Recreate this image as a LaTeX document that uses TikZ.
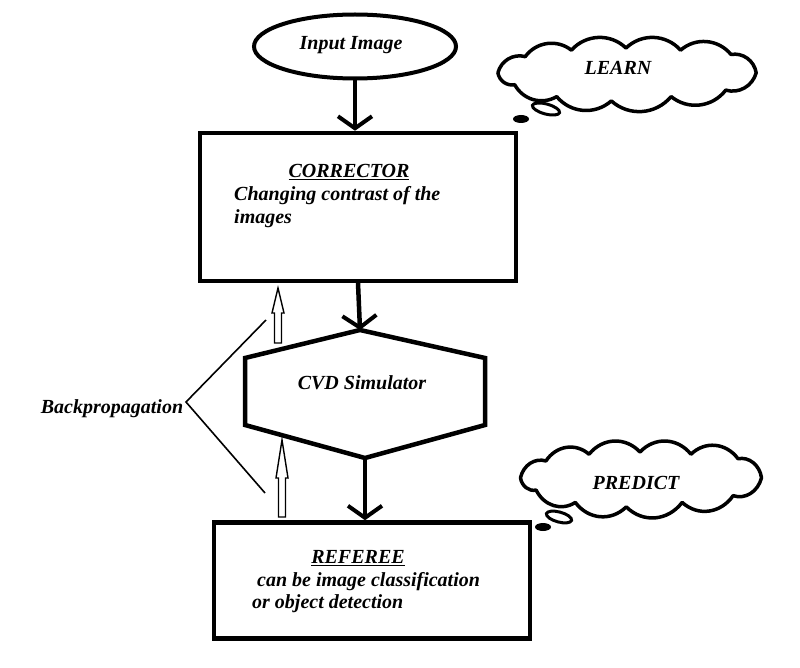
\documentclass[tikz,border=0pt]{standalone}
\usepackage{fontspec}
\setmainfont{Liberation Serif}
\usetikzlibrary{arrows.meta,shapes.geometric}
\begin{document}
\begin{tikzpicture}[x=1pt,y=-1pt,
  txt/.style={font=\fontsize{20}{22}\selectfont\bfseries\itshape, inner sep=0pt},
  box/.style={draw, line width=4.5pt, inner sep=0pt},
  flow/.style={line width=4.5pt, -{Straight Barb[length=12pt,width=34pt,line width=4pt]}},
  hollow/.style={draw, line width=1.4pt, fill=white, line join=miter},
  thin/.style={line width=1.6pt},
  cloudline/.style={line width=3.5pt, line join=round},
  tail/.style={line width=3pt},
  puff/.style={bend left=45}
]
\useasboundingbox (0,0) rectangle (800,668);
% Input ellipse
\node[ellipse, draw, line width=4pt, minimum width=202pt, minimum height=64pt, inner sep=0pt] (inp) at (355,46.5) {};
\node[txt] (inptxt) at (351,45) {Input Image};
% Corrector
\node[box, minimum width=316pt, minimum height=148pt] (corr) at (358,207) {};
\node[txt] (corrtitle) at (349,172) {\underline{CORRECTOR}};
\node[txt, anchor=west] (corrl1) at (234,196) {Changing contrast of the};
\node[txt, anchor=west] (corrl2) at (234,219) {images};
% Hexagon
\coordinate (hexT) at (360,330);
\coordinate (hexB) at (365,458);
\draw[line width=4.5pt, line join=miter] (hexT) -- (485,358) -- (485,425) -- (hexB) -- (245,425) -- (245,358) -- cycle;
\node[txt] (cvd) at (362,383) {CVD Simulator};
% Referee
\node[box, minimum width=316pt, minimum height=116pt] (ref) at (372,580.5) {};
\node[txt] (reftitle) at (358,558) {\underline{REFEREE}};
\node[txt, anchor=west] (refl1) at (257,582) {can be image classification};
\node[txt, anchor=west] (refl2) at (252,604) {or object detection};
% flow arrows
\draw[flow] (inp.south) -- (inp.south |- corr.north);
\draw[flow] (358,283) -- (hexT);
\draw[flow] (hexB) -- (hexB |- ref.north);
% hollow arrows
\coordinate (up1) at (278,288);
\coordinate (up2) at (282,440);
\draw[hollow] (up1) -- ++(6,25) -- ++(-2.5,0) -- ++(0,30) -- ++(-7,0) -- ++(0,-30) -- ++(-2.5,0) -- cycle;
\draw[hollow] (up2) -- ++(6,38) -- ++(-2.5,0) -- ++(0,39) -- ++(-7,0) -- ++(0,-39) -- ++(-2.5,0) -- cycle;
% Backpropagation
\node[txt] (bp) at (112,409) {Backpropagation};
\coordinate (bpv) at (186,402);
\coordinate (bp1) at (266,320);
\coordinate (bp2) at (265,493);
\draw[thin] (bp1) -- (bpv) -- (bp2);
% Clouds
\begin{scope}[shift={(626,75)}, xscale=1.05, yscale=1.08]
\draw[cloudline] (-122,-2) to[puff] (-96,-17) to[puff] (-52,-23) to[puff] (0,-25) to[puff] (52,-23) to[puff] (100,-19) to[puff] (124,-2) to[puff] (95,14) to[puff] (43,20) to[puff] (-14,24) to[puff] (-66,20) to[puff] (-106,9) to[puff] cycle;
\end{scope}
\node[txt] (learntxt) at (618,68) {LEARN};
\draw[tail, rotate around={-15:(546,109)}] (546,109) ellipse (14pt and 5pt);
\fill (521,119) ellipse (8pt and 4pt);
\begin{scope}[shift={(640,480)}, xscale=0.98, yscale=1.12]
\draw[cloudline] (-122,-2) to[puff] (-96,-17) to[puff] (-52,-23) to[puff] (0,-25) to[puff] (52,-23) to[puff] (100,-19) to[puff] (124,-2) to[puff] (95,14) to[puff] (43,20) to[puff] (-14,24) to[puff] (-66,20) to[puff] (-106,9) to[puff] cycle;
\end{scope}
\node[txt] (predtxt) at (636,483) {PREDICT};
\draw[tail, rotate around={-15:(559,517)}] (559,517) ellipse (13pt and 5pt);
\fill (543,527) ellipse (8pt and 4pt);
\end{tikzpicture}
\end{document}
